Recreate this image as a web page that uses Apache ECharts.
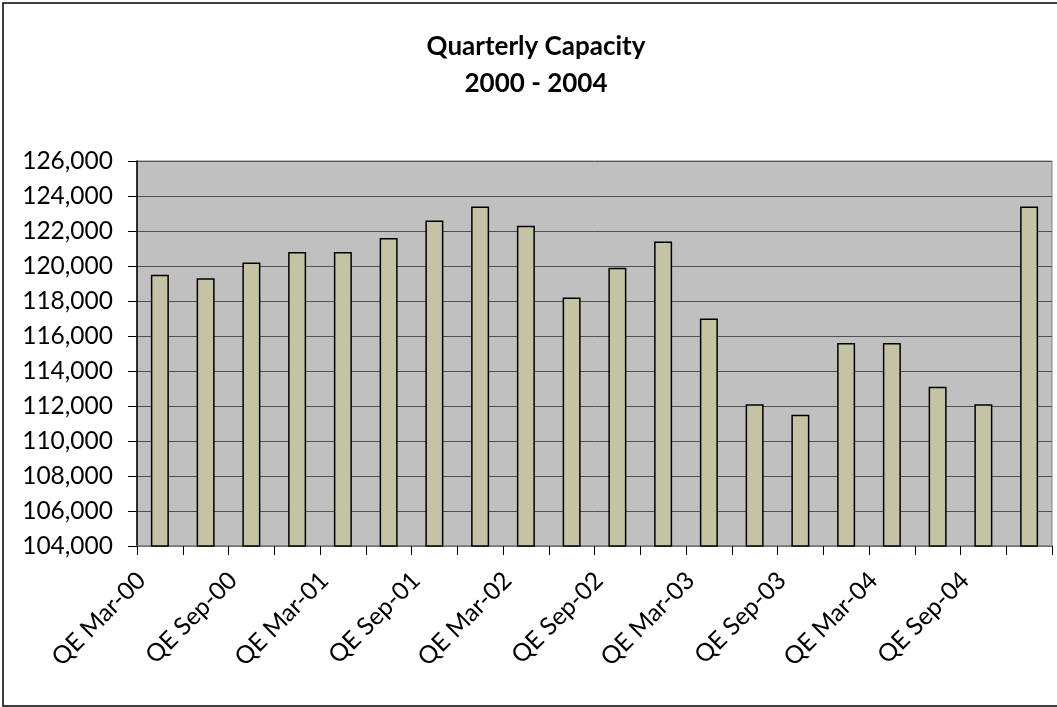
<!DOCTYPE html>
<html>
<head>
<meta charset="utf-8">
<script src="https://cdn.jsdelivr.net/npm/echarts@6/dist/echarts.min.js"></script>
<style>
  html, body { margin: 0; padding: 0; background: #ffffff; }
  #chart { width: 1057px; height: 707px; }
</style>
</head>
<body>
<div id="chart"></div>
<script>
// Quarter-end labels, 2000 through 2004
const quarters = [
  'QE Mar-00', 'QE Jun-00', 'QE Sep-00', 'QE Dec-00',
  'QE Mar-01', 'QE Jun-01', 'QE Sep-01', 'QE Dec-01',
  'QE Mar-02', 'QE Jun-02', 'QE Sep-02', 'QE Dec-02',
  'QE Mar-03', 'QE Jun-03', 'QE Sep-03', 'QE Dec-03',
  'QE Mar-04', 'QE Jun-04', 'QE Sep-04', 'QE Dec-04'
];

// Capacity at each quarter end
const capacity = [
  119500, 119300, 120200, 120800,
  120800, 121600, 122600, 123400,
  122300, 118200, 119900, 121400,
  117000, 112100, 111500, 115600,
  115600, 113100, 112100, 123400
];

// Value axis range
const yMin = 104000;
const yMax = 126000;
const yStep = 2000;

const chartTitle = 'Quarterly Capacity\n2000 - 2004';

const FONT = 'Lato, "Noto Sans", sans-serif';

const chart = echarts.init(document.getElementById('chart'), null, { renderer: 'canvas' });

chart.setOption({
  backgroundColor: '#ffffff',
  animation: false,
  title: {
    text: chartTitle,
    left: 531,
    top: 23,
    textAlign: 'center',
    textStyle: {
      fontFamily: FONT,
      fontSize: 26,
      fontWeight: 'bold',
      color: '#000000',
      lineHeight: 37
    }
  },
  grid: {
    left: 137,
    right: 5,
    top: 161,
    bottom: 161,
    show: true,
    backgroundColor: '#c0c0c0',
    borderColor: '#808080',
    borderWidth: 1
  },
  xAxis: {
    type: 'category',
    data: quarters,
    boundaryGap: true,
    axisLine: { show: true, lineStyle: { color: '#808080', width: 1.5 } },
    axisTick: {
      show: true,
      interval: 0,
      alignWithLabel: false,
      length: 9,
      lineStyle: { color: '#000000', width: 1 }
    },
    axisLabel: {
      interval: 1,
      rotate: 45,
      margin: 12,
      padding: [0, 26, 0, 0],
      fontFamily: FONT,
      fontSize: 24.5,
      color: '#000000'
    },
    splitLine: { show: false }
  },
  yAxis: {
    type: 'value',
    min: yMin,
    max: yMax,
    interval: yStep,
    axisLine: { show: true, lineStyle: { color: '#000000', width: 1.5 } },
    axisTick: { show: true, length: 9, lineStyle: { color: '#000000', width: 1 } },
    axisLabel: {
      margin: 24,
      fontFamily: FONT,
      fontSize: 24.5,
      color: '#000000',
      formatter: v => v.toLocaleString('en-US')
    },
    splitLine: { show: true, lineStyle: { color: '#505050', width: 1 } }
  },
  series: [{
    type: 'bar',
    data: capacity,
    barWidth: 18,
    itemStyle: {
      color: '#c4c4a4',
      borderColor: '#000000',
      borderWidth: 1.5
    }
  }],
  graphic: [{
    type: 'rect',
    shape: { x: 3, y: 3, width: 1070, height: 703 },
    style: { fill: null, stroke: '#000000', lineWidth: 1.5 },
    silent: true,
    z: 100
  }]
});
</script>
</body>
</html>
